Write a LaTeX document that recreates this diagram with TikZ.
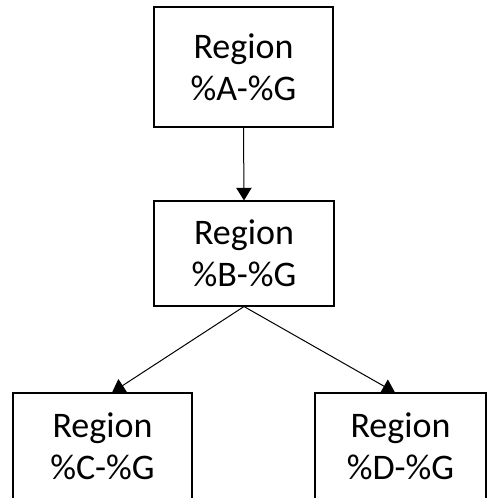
\documentclass[tikz,border=0pt]{standalone}
\usepackage{fontspec}
\setmainfont{Carlito}
\usetikzlibrary{arrows.meta,calc}
\begin{document}
\begin{tikzpicture}[x=0.75pt,y=-0.75pt,
  regionbox/.style={draw=black,line width=0.8pt,fill=white,align=center,
    inner sep=0pt,font=\fontsize{27}{31.5}\selectfont},
  link/.style={draw=black,line width=0.75pt,-{Triangle[length=9.5pt,width=11.5pt]}}]
  \useasboundingbox (0,0) rectangle (487,498);
  \clip (0,0) rectangle (487,498);
  % region boxes
  \node[regionbox,minimum width=179*0.75pt,minimum height=120*0.75pt] (top) at (243.5,67) {Region\\\%A-\%G};
  \node[regionbox,minimum width=180*0.75pt,minimum height=105*0.75pt] (mid) at (244,253.5) {Region\\\%B-\%G};
  \node[regionbox,minimum width=179*0.75pt,minimum height=107*0.75pt] (bl) at (102.5,446.5) {Region\\\%C-\%G};
  \node[regionbox,minimum width=171*0.75pt,minimum height=107*0.75pt] (br) at (400.5,446.5) {Region\\\%D-\%G};
  % connectors
  \draw[link] (top.south) -- (mid.north);
  \draw[link] (mid.south) -- ($(bl.north west)!0.553!(bl.north east)$);
  \draw[link] (mid.south) -- ($(br.north west)!0.468!(br.north east)$);
\end{tikzpicture}
\end{document}
